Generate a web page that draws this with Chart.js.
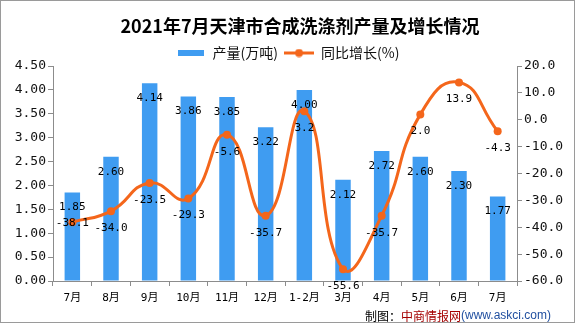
<!DOCTYPE html>
<html>
<head>
<meta charset="utf-8">
<script src="https://cdn.jsdelivr.net/npm/chart.js@4/dist/chart.umd.min.js"></script>
<style>
  html, body { margin: 0; padding: 0; background: #fff; }
  #wrap { width: 575px; height: 323px; position: relative; }
</style>
</head>
<body>
<div id="wrap"><canvas id="chart"></canvas></div>
<script>
const categories = ["7月", "8月", "9月", "10月", "11月", "12月", "1-2月", "3月", "4月", "5月", "6月", "7月"];
const output = [1.85, 2.60, 4.14, 3.86, 3.85, 3.22, 4.00, 2.12, 2.72, 2.60, 2.30, 1.77];
const growth = [-38.1, -34.0, -23.5, -29.3, -5.6, -35.7, 3.2, -55.6, -35.7, 2.0, 13.9, -4.3];

const TITLE = "2021年7月天津市合成洗涤剂产量及增长情况";
const BLUE = "#3f9cf1";
const ORANGE = "#f4661b";
const AXIS = "#8c8c8c";
const MONO = '"DejaVu Sans Mono", "Noto Sans CJK SC", monospace';

Chart.defaults.font.family = '"Noto Sans CJK SC", sans-serif';
Chart.defaults.color = "#111";

// legend swatches
function swatch(w, h, draw) {
  const c = document.createElement("canvas");
  c.width = w;
  c.height = h;
  draw(c.getContext("2d"));
  return c;
}
const barSwatch = swatch(26, 6, (g) => {
  g.fillStyle = BLUE;
  g.fillRect(0, 0, 26, 6);
});
const lineSwatch = swatch(30, 9, (g) => {
  g.strokeStyle = ORANGE;
  g.lineWidth = 3;
  g.beginPath();
  g.moveTo(0, 4.5);
  g.lineTo(30, 4.5);
  g.stroke();
  g.fillStyle = ORANGE;
  g.beginPath();
  g.arc(15, 4.5, 4, 0, Math.PI * 2);
  g.fill();
});

// title, value labels, border and source line
const extras = {
  id: "extras",
  beforeUpdate(chart) {
    // keep the legend band short so the plot starts right under it
    const lg = chart.legend;
    if (lg && !lg._trimmed) {
      const fit = lg.fit;
      lg.fit = function () {
        fit.call(this);
        this.height = 26;
      };
      lg._trimmed = true;
    }
  },
  afterDatasetsDraw(chart) {
    const ctx = chart.ctx;
    ctx.save();
    ctx.font = "11px " + MONO;
    ctx.fillStyle = "#000";
    ctx.textAlign = "center";
    ctx.textBaseline = "middle";
    chart.getDatasetMeta(0).data.forEach((bar, i) => {
      ctx.fillText(output[i].toFixed(2), bar.x, bar.y + 15);
    });
    chart.getDatasetMeta(1).data.forEach((pt, i) => {
      const dy = i === 0 ? 1 : 17;
      ctx.fillText(growth[i].toFixed(1), pt.x, pt.y + dy);
    });
    ctx.restore();
  },
  afterDraw(chart) {
    const ctx = chart.ctx;
    ctx.save();
    ctx.strokeStyle = "#9a9a9a";
    ctx.lineWidth = 1;
    ctx.strokeRect(0.5, 0.5, chart.width - 1, chart.height - 1);

    ctx.font = 'bold 18px "Noto Sans CJK SC"';
    ctx.fillStyle = "#000";
    ctx.textAlign = "center";
    ctx.textBaseline = "middle";
    ctx.fillText(TITLE, 300, 26);

    // 制图：中商情报网(www.askci.com)
    const parts = [
      ["制图：", "#000", '12px "Noto Sans CJK SC"'],
      ["中商情报网", "#a50000", '12px "Noto Sans CJK SC"'],
      ["(www.askci.com)", "#1f4e9f", '12px "Liberation Sans"'],
    ];
    let x = 365;
    ctx.textAlign = "left";
    parts.forEach(([t, col, f]) => {
      ctx.font = f;
      ctx.fillStyle = col;
      ctx.fillText(t, x, 316);
      x += ctx.measureText(t).width;
    });
    ctx.restore();
  },
};

new Chart(document.getElementById("chart"), {
  type: "bar",
  data: {
    labels: categories,
    datasets: [
      {
        label: "产量(万吨)",
        data: output,
        backgroundColor: BLUE,
        categoryPercentage: 1,
        barPercentage: 0.4,
        yAxisID: "y",
        order: 2,
      },
      {
        type: "line",
        label: "同比增长(%)",
        data: growth,
        borderColor: ORANGE,
        backgroundColor: ORANGE,
        borderWidth: 3,
        pointRadius: 4,
        pointBorderWidth: 0,
        tension: 0.5,
        yAxisID: "y1",
        order: 1,
      },
    ],
  },
  options: {
    responsive: true,
    maintainAspectRatio: false,
    animation: false,
    layout: { padding: { left: 0, right: 0, top: 40, bottom: 0 } },
    plugins: {
      tooltip: { enabled: false },
      title: { display: false },
      legend: {
        display: true,
        labels: {
          usePointStyle: true,
          pointStyleWidth: 30,
          boxHeight: 8,
          padding: 6,
          color: "#111",
          font: { size: 14 },
          generateLabels: (chart) =>
            chart.data.datasets.map((ds, i) => ({
              text: ds.label,
              pointStyle: i === 0 ? barSwatch : lineSwatch,
              datasetIndex: i,
              lineWidth: 0,
              fillStyle: "transparent",
              strokeStyle: "transparent",
              fontColor: "#111",
            })),
        },
      },
    },
    scales: {
      x: {
        offset: true,
        grid: { display: true, offset: true, drawOnChartArea: false, tickLength: 5, color: AXIS },
        border: { display: true, color: AXIS },
        ticks: { font: { size: 11, family: MONO }, color: "#000", padding: 6, maxRotation: 0, autoSkip: false },
        afterFit: (s) => { s.height = 42; },
      },
      y: {
        position: "left",
        min: 0,
        max: 4.5,
        grid: { drawOnChartArea: false, tickLength: 5, color: AXIS },
        border: { display: true, color: AXIS },
        ticks: {
          stepSize: 0.5,
          padding: 2,
          color: "#111",
          font: { size: 13, family: MONO },
          callback: (v) => v.toFixed(2),
        },
        afterFit: (s) => { s.width = 53; },
      },
      y1: {
        position: "right",
        min: -60,
        max: 20,
        grid: { drawOnChartArea: false, tickLength: 5, color: AXIS },
        border: { display: true, color: AXIS },
        ticks: {
          stepSize: 10,
          padding: 2,
          color: "#111",
          font: { size: 13, family: MONO },
          callback: (v) => v.toFixed(1),
        },
        afterFit: (s) => { s.width = 58; },
      },
    },
  },
  plugins: [extras],
});
</script>
</body>
</html>
